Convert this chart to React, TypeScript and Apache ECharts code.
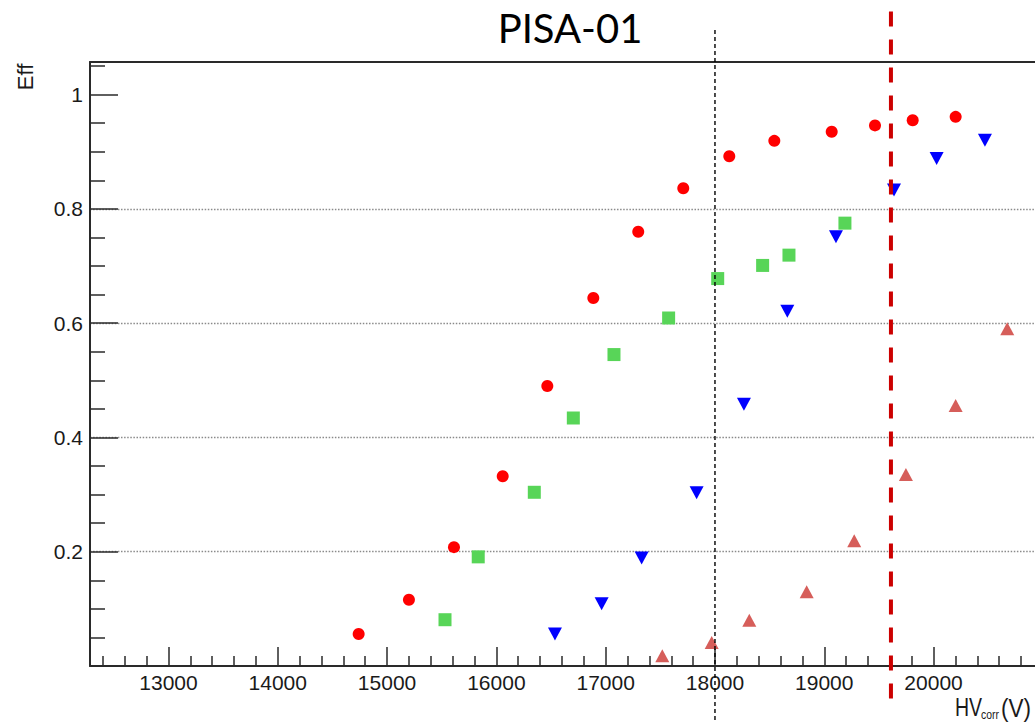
import React, { useEffect, useRef } from "react";
import * as echarts from "echarts";

// Axis ranges (HV in volts, efficiency as a fraction)
const X_MIN = 12282;
const X_MAX = 20928;
const Y_MIN = 0;
const Y_MAX = 1.057;

const X_MAJOR_TICKS = [13000, 14000, 15000, 16000, 17000, 18000, 19000, 20000];
const Y_MAJOR_TICKS = [0, 0.2, 0.4, 0.6, 0.8, 1.0];
const Y_TICK_LABELS = [0.2, 0.4, 0.6, 0.8, 1.0];

// Minor ticks: every 200 V on x, every 0.05 on y
const X_MINOR_TICKS: number[] = [];
for (let v = 12400; v <= 20800; v += 200) if (v % 1000 !== 0) X_MINOR_TICKS.push(v);
const Y_MINOR_TICKS: number[] = [];
for (let i = 1; i <= 21; i++) if (i % 4 !== 0) Y_MINOR_TICKS.push(+(i * 0.05).toFixed(2));

// Reference voltages
const HV_REFERENCE = 18000;
const HV_WORKING_POINT = 19610;

// Efficiency curves
const redHV = [14740, 15200, 15612, 16058, 16466, 16887, 17298, 17710, 18131, 18543, 19068, 19464, 19809, 20202];
const redEff = [0.056, 0.116, 0.208, 0.332, 0.49, 0.644, 0.76, 0.836, 0.892, 0.919, 0.935, 0.946, 0.955, 0.961];

const greenHV = [15530, 15834, 16347, 16704, 17076, 17576, 18025, 18436, 18677, 19189];
const greenEff = [0.081, 0.191, 0.304, 0.434, 0.545, 0.609, 0.678, 0.701, 0.719, 0.775];

const blueHV = [16536, 16963, 17329, 17832, 18265, 18662, 19107, 19638, 20028, 20470];
const blueEff = [0.056, 0.109, 0.189, 0.303, 0.458, 0.621, 0.751, 0.833, 0.888, 0.92];

const pinkHV = [17518, 17970, 18314, 18839, 19274, 19747, 20202, 20674];
const pinkEff = [0.018, 0.041, 0.08, 0.13, 0.219, 0.335, 0.456, 0.59];

const pairs = (xs: number[], ys: number[]) => xs.map((x, i) => [x, ys[i]]);

const AXIS_COLOR = "#2a2a2a";
const LABEL_FONT = "'Liberation Sans', Arial, Helvetica, sans-serif";

export default function App() {
  const ref = useRef<HTMLDivElement>(null);

  useEffect(() => {
    if (!ref.current) return;
    const chart = echarts.init(ref.current, null, { renderer: "svg" });

    const hiddenAxisParts = {
      axisLine: { show: false },
      axisLabel: { show: false },
      splitLine: { show: false },
    };

    chart.setOption({
      animation: false,
      backgroundColor: "#ffffff",
      grid: { left: 90, right: 0, top: 62, bottom: 56, containLabel: false },
      xAxis: [
        {
          type: "value",
          min: X_MIN,
          max: X_MAX,
          position: "bottom",
          axisLine: { show: true, onZero: false, lineStyle: { color: AXIS_COLOR, width: 2 } },
          axisTick: {
            show: true,
            inside: true,
            length: 19,
            customValues: X_MAJOR_TICKS,
            lineStyle: { color: AXIS_COLOR, width: 1.5 },
          },
          axisLabel: {
            show: true,
            customValues: X_MAJOR_TICKS,
            margin: 6,
            color: "#1a1a1a",
            fontSize: 21,
            fontFamily: LABEL_FONT,
            formatter: (v: number) => String(v),
          },
          splitLine: { show: false },
        },
        {
          type: "value",
          min: X_MIN,
          max: X_MAX,
          position: "bottom",
          ...hiddenAxisParts,
          axisTick: {
            show: true,
            inside: true,
            length: 10,
            customValues: X_MINOR_TICKS,
            lineStyle: { color: AXIS_COLOR, width: 1.5 },
          },
        },
        {
          type: "value",
          min: X_MIN,
          max: X_MAX,
          position: "top",
          axisLine: { show: true, onZero: false, lineStyle: { color: AXIS_COLOR, width: 2 } },
          axisTick: { show: false },
          axisLabel: { show: false },
          splitLine: { show: false },
        },
      ],
      yAxis: [
        {
          type: "value",
          min: Y_MIN,
          max: Y_MAX,
          interval: 0.2,
          position: "left",
          axisLine: { show: true, onZero: false, lineStyle: { color: AXIS_COLOR, width: 2 } },
          axisTick: {
            show: true,
            inside: true,
            length: 28,
            customValues: Y_MAJOR_TICKS,
            lineStyle: { color: AXIS_COLOR, width: 1.5 },
          },
          axisLabel: {
            show: true,
            customValues: Y_TICK_LABELS,
            margin: 7,
            color: "#1a1a1a",
            fontSize: 21,
            fontFamily: LABEL_FONT,
            formatter: (v: number) => String(+v.toFixed(2)),
          },
          splitLine: {
            show: true,
            showMinLine: false,
            showMaxLine: false,
            lineStyle: { color: "#8a8a8a", width: 1.4, type: [1.5, 1.6] },
          },
        },
        {
          type: "value",
          min: Y_MIN,
          max: Y_MAX,
          position: "left",
          ...hiddenAxisParts,
          axisTick: {
            show: true,
            inside: true,
            length: 15,
            customValues: Y_MINOR_TICKS,
            lineStyle: { color: AXIS_COLOR, width: 1.5 },
          },
        },
      ],
      series: [
        {
          type: "scatter",
          name: "red",
          xAxisIndex: 0,
          yAxisIndex: 0,
          symbol: "circle",
          symbolSize: 12,
          itemStyle: { color: "#ff0000", opacity: 1 },
          data: pairs(redHV, redEff),
        },
        {
          type: "scatter",
          name: "green",
          xAxisIndex: 0,
          yAxisIndex: 0,
          symbol: "rect",
          symbolSize: 13,
          itemStyle: { color: "#58d558", opacity: 1 },
          data: pairs(greenHV, greenEff),
        },
        {
          type: "scatter",
          name: "blue",
          xAxisIndex: 0,
          yAxisIndex: 0,
          symbol: "triangle",
          symbolRotate: 180,
          symbolSize: [14, 13],
          itemStyle: { color: "#0000ff", opacity: 1 },
          data: pairs(blueHV, blueEff),
        },
        {
          type: "scatter",
          name: "pink",
          xAxisIndex: 0,
          yAxisIndex: 0,
          symbol: "triangle",
          symbolSize: [14, 13],
          itemStyle: { color: "#d65e5a", opacity: 1 },
          data: pairs(pinkHV, pinkEff),
        },
      ],
    });

    // Vertical reference lines reach beyond the frame, so they are drawn as graphics
    const xRef = chart.convertToPixel({ xAxisIndex: 0 }, HV_REFERENCE) as number;
    const xWork = chart.convertToPixel({ xAxisIndex: 0 }, HV_WORKING_POINT) as number;

    chart.setOption({
      graphic: [
        {
          type: "text",
          id: "title",
          x: 570,
          y: 28,
          style: {
            text: "PISA-01",
            fill: "#000000",
            font: "40px Lato, 'Open Sans', sans-serif",
            align: "center",
            verticalAlign: "middle",
          },
          z: 20,
        },
        {
          type: "text",
          id: "ytitle",
          x: 25,
          y: 77,
          rotation: Math.PI / 2,
          style: {
            text: "Eff",
            fill: "#1a1a1a",
            font: `22px ${LABEL_FONT}`,
            align: "center",
            verticalAlign: "middle",
          },
          z: 20,
        },
        {
          type: "text",
          id: "xtitle-hv",
          x: 955,
          y: 708,
          scaleX: 0.78,
          style: {
            text: "HV",
            fill: "#1a1a1a",
            font: `25px ${LABEL_FONT}`,
            align: "left",
            verticalAlign: "middle",
          },
          z: 20,
        },
        {
          type: "text",
          id: "xtitle-sub",
          x: 981,
          y: 714,
          scaleX: 0.8,
          style: {
            text: "corr",
            fill: "#1a1a1a",
            font: `13px ${LABEL_FONT}`,
            align: "left",
            verticalAlign: "middle",
          },
          z: 20,
        },
        {
          type: "text",
          id: "xtitle-unit",
          x: 1001,
          y: 708,
          scaleX: 0.9,
          style: {
            text: "(V)",
            fill: "#1a1a1a",
            font: `25px ${LABEL_FONT}`,
            align: "left",
            verticalAlign: "middle",
          },
          z: 20,
        },
        {
          type: "line",
          id: "ref-line",
          shape: { x1: xRef, y1: 30, x2: xRef, y2: 722 },
          style: { stroke: "#000000", lineWidth: 1.4, lineDash: [4, 3] },
          z: 15,
        },
        {
          type: "line",
          id: "work-line",
          shape: { x1: xWork, y1: 11.5, x2: xWork, y2: 699 },
          style: { stroke: "#cc0000", lineWidth: 4, lineDash: [15, 13] },
          z: 15,
        },
      ],
    });

    return () => chart.dispose();
  }, []);

  return (
    <div
      ref={ref}
      style={{ position: "absolute", left: 0, top: 0, width: 1035, height: 722 }}
    />
  );
}
